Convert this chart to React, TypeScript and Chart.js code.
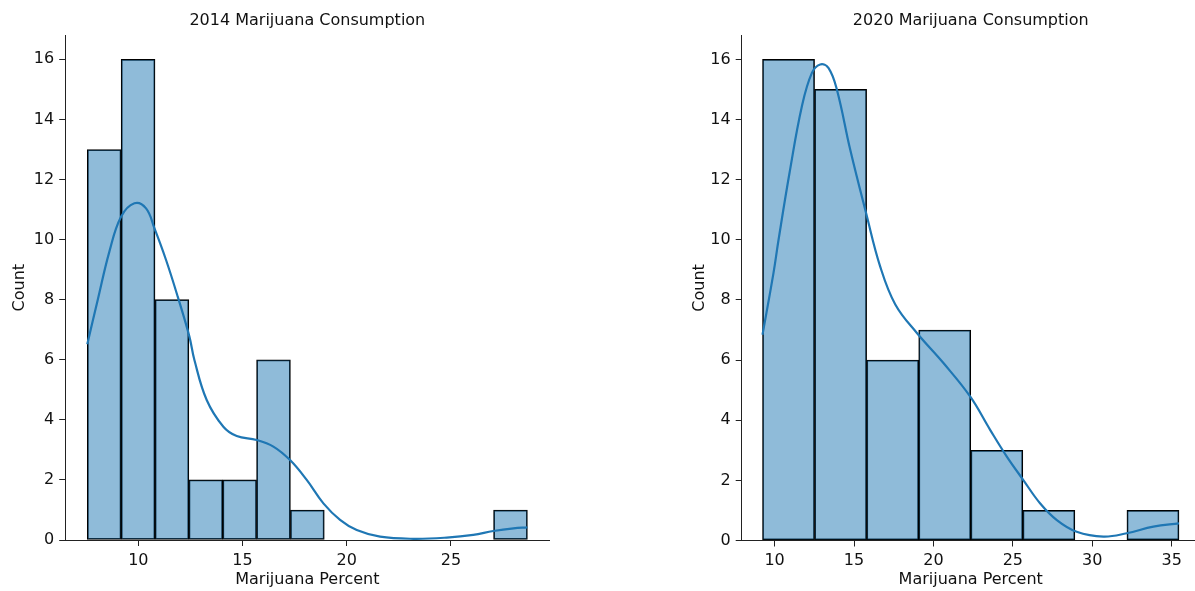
import React, { useEffect, useRef } from "react";
import { Chart, registerables } from "chart.js";

Chart.register(...registerables);
Chart.defaults.font.family = "'DejaVu Sans', sans-serif";
Chart.defaults.color = "#111";

// ---------- data ----------
const xAxisLabel = "Marijuana Percent";
const yAxisLabel = "Count";

const title2014 = "2014 Marijuana Consumption";
const counts2014 = [13, 16, 8, 2, 2, 6, 1, 0, 0, 0, 0, 0, 1];
const binRange2014 = [7.55, 28.67];
const kdeX2014 = [7.55, 8.05, 8.61, 9.17, 9.81, 10.37, 10.77, 11.33, 11.89, 12.45, 12.69, 13.28, 14.08, 14.72, 15.68, 16.48, 17.28, 18.08, 18.88, 19.68, 20.48, 21.6, 23.2, 24.8, 26.07, 27.03, 28.0, 28.67];
const kdeY2014 = [6.52, 7.99, 9.6, 10.76, 11.21, 11.04, 10.38, 9.32, 8.1, 6.77, 5.99, 4.66, 3.77, 3.46, 3.33, 3.11, 2.66, 2.0, 1.22, 0.67, 0.33, 0.11, 0.04, 0.08, 0.17, 0.3, 0.39, 0.42];
const xTicks2014 = [10, 15, 20, 25];
const xLim2014 = [6.49, 29.73];

const title2020 = "2020 Marijuana Consumption";
const counts2020 = [16, 15, 6, 7, 3, 1, 0, 1];
const binRange2020 = [9.24, 35.46];
const kdeX2020 = [9.24, 9.93, 10.25, 10.94, 11.72, 12.35, 12.87, 13.39, 13.92, 14.76, 15.76, 16.65, 17.6, 18.96, 20.63, 22.31, 23.57, 24.62, 25.66, 26.71, 27.77, 29.02, 30.7, 32.17, 33.85, 35.46];
const kdeY2020 = [6.84, 8.89, 10.0, 12.22, 14.44, 15.55, 15.83, 15.72, 15.0, 13.0, 10.89, 9.11, 7.85, 6.9, 5.9, 4.79, 3.68, 2.79, 2.01, 1.24, 0.68, 0.29, 0.13, 0.24, 0.46, 0.57];
const xTicks2020 = [10, 15, 20, 25, 30, 35];
const xLim2020 = [7.93, 36.77];

const yTicks = [0, 2, 4, 6, 8, 10, 12, 14, 16];
const yLim = [0, 16.8];

// ---------- layout ----------
const H = 591;
const FS = 16;

type Spec = {
  title: string;
  counts: number[];
  binRange: number[];
  kdeX: number[];
  kdeY: number[];
  xTicks: number[];
  xLim: number[];
  canvasLeft: number;
  canvasWidth: number;
  areaLeft: number;
  areaRight: number;
  areaBottom: number;
  yTitleX: number;
};

const spec2014: Spec = {
  title: title2014,
  counts: counts2014,
  binRange: binRange2014,
  kdeX: kdeX2014,
  kdeY: kdeY2014,
  xTicks: xTicks2014,
  xLim: xLim2014,
  canvasLeft: 0,
  canvasWidth: 600,
  areaLeft: 65.2,
  areaRight: 549.5,
  areaBottom: 540,
  yTitleX: 20,
};

const spec2020: Spec = {
  title: title2020,
  counts: counts2020,
  binRange: binRange2020,
  kdeX: kdeX2020,
  kdeY: kdeY2020,
  xTicks: xTicks2020,
  xLim: xLim2020,
  canvasLeft: 600,
  canvasWidth: 610,
  areaLeft: 141.7,
  areaRight: 599.8,
  areaBottom: 540.5,
  yTitleX: 100,
};

function HistChart({ spec }: { spec: Spec }) {
  const ref = useRef<HTMLCanvasElement>(null);
  useEffect(() => {
    const binW = (spec.binRange[1] - spec.binRange[0]) / spec.counts.length;
    const barData = spec.counts.map((c, i) => ({ x: spec.binRange[0] + binW * (i + 0.5), y: c }));
    const kdeData = spec.kdeX.map((x, i) => ({ x, y: spec.kdeY[i] }));
    const lh = FS * 1.2;
    const chart = new Chart(ref.current as HTMLCanvasElement, {
      type: "bar",
      data: {
        datasets: [
          {
            type: "line",
            data: kdeData,
            borderColor: "#1f77b4",
            borderWidth: 2.2,
            pointRadius: 0,
            tension: 0.4,
            fill: false,
            order: 0,
          } as any,
          {
            type: "bar",
            data: barData,
            backgroundColor: "rgba(31,119,180,0.5)",
            borderColor: "#000",
            borderWidth: 1.1,
            borderSkipped: false,
            categoryPercentage: 1,
            barPercentage: 1,
            order: 1,
          } as any,
        ],
      },
      options: {
        responsive: false,
        maintainAspectRatio: false,
        animation: false,
        devicePixelRatio: 1,
        layout: { padding: { left: 0, top: 0, right: spec.canvasWidth - spec.areaRight, bottom: 0 } },
        plugins: {
          legend: { display: false },
          tooltip: { enabled: false },
          title: {
            display: true,
            text: spec.title,
            fullSize: false,
            color: "#111",
            font: { size: FS, weight: "normal" },
            padding: { top: 10.9, bottom: 35.3 - lh - 10.9 },
          },
        },
        scales: {
          x: {
            type: "linear",
            min: spec.xLim[0],
            max: spec.xLim[1],
            offset: false,
            grid: { offset: false, drawOnChartArea: false, drawTicks: true, tickLength: 6, color: "#222", lineWidth: 1 },
            border: { display: true, color: "#222", width: 1 },
            ticks: { color: "#111", font: { size: FS }, padding: 5, maxRotation: 0, autoSkip: false },
            title: { display: true, text: xAxisLabel, color: "#111", font: { size: FS }, padding: { top: 0, bottom: H - 579.5 - lh / 2 } },
            afterBuildTicks: (s: any) => {
              s.ticks = spec.xTicks.map((v) => ({ value: v }));
            },
            afterFit: (s: any) => {
              s.height = H - spec.areaBottom;
            },
          } as any,
          y: {
            type: "linear",
            min: yLim[0],
            max: yLim[1],
            grid: { drawOnChartArea: false, drawTicks: true, tickLength: 6, color: "#222", lineWidth: 1 },
            border: { display: true, color: "#222", width: 1 },
            ticks: { color: "#111", font: { size: FS }, padding: 5, autoSkip: false },
            title: { display: true, text: yAxisLabel, color: "#111", font: { size: FS }, padding: { top: spec.yTitleX - lh / 2, bottom: 0 } },
            afterBuildTicks: (s: any) => {
              s.ticks = yTicks.map((v) => ({ value: v }));
            },
            afterFit: (s: any) => {
              s.width = spec.areaLeft;
            },
          } as any,
        },
      },
    });
    return () => chart.destroy();
  }, []);
  return (
    <canvas
      ref={ref}
      width={spec.canvasWidth}
      height={H}
      style={{ position: "absolute", left: spec.canvasLeft, top: 0, width: spec.canvasWidth, height: H }}
    />
  );
}

export default function App() {
  return (
    <div style={{ position: "absolute", left: 0, top: 0, width: 1195, height: H, overflow: "hidden", background: "#fff" }}>
      <HistChart spec={spec2014} />
      <HistChart spec={spec2020} />
    </div>
  );
}
